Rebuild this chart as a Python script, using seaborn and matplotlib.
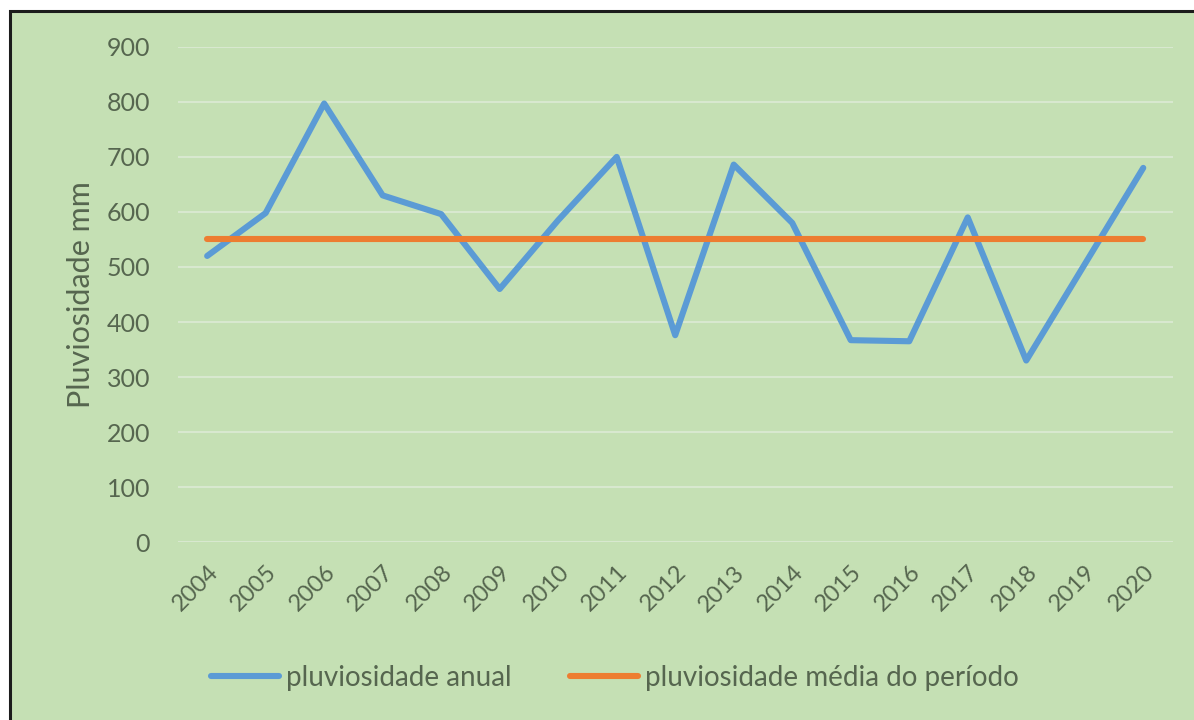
import matplotlib
matplotlib.use("Agg")
import matplotlib.pyplot as plt
import seaborn as sns
import pandas as pd
from matplotlib.patches import Rectangle

anos = ["2004", "2005", "2006", "2007", "2008", "2009", "2010", "2011", "2012",
        "2013", "2014", "2015", "2016", "2017", "2018", "2019", "2020"]
pluviosidade_anual = [520, 598, 797, 630, 596, 460, 585, 700, 376,
                      686, 580, 367, 365, 590, 330, 505, 680]
media_periodo = 550

bg = "#c5e0b4"
grid_col = "#d8e8cf"
txt = "#56664f"
azul = "#5b9bd5"
laranja = "#ed7d31"

df = pd.DataFrame({
    "ano": anos,
    "anual": pluviosidade_anual,
    "media": [media_periodo] * len(anos),
})

sns.set_theme(style="white")
plt.rcParams["font.family"] = ["Lato", "DejaVu Sans"]

fig = plt.figure(figsize=(11.94, 7.2), dpi=100, facecolor="white")
# green frame with black edge at left/top like the original screenshot
fig.patches.append(Rectangle((10 / 1194, -0.05), 1.2, 1 - 11 / 720 + 0.05,
                             transform=fig.transFigure, facecolor=bg,
                             edgecolor="#1c1c1c", linewidth=2.2, zorder=-10))

ax = fig.add_axes([0.149, 0.247, 0.833, 0.688])
ax.set_facecolor(bg)
ax.patch.set_alpha(0)

sns.lineplot(data=df, x="ano", y="anual", ax=ax, color=azul, linewidth=4.4,
             label="pluviosidade anual", sort=False)
sns.lineplot(data=df, x="ano", y="media", ax=ax, color=laranja, linewidth=4.4,
             label="pluviosidade média do período", sort=False)

ax.set_ylim(0, 900)
ax.set_xlim(-0.5, len(anos) - 0.5)
ax.set_yticks(range(0, 901, 100))
ax.yaxis.grid(True, color=grid_col, linewidth=1.5)
ax.set_axisbelow(True)
for s in ax.spines.values():
    s.set_visible(False)

ax.tick_params(axis="y", labelsize=18, colors=txt, length=0, pad=20)
ax.tick_params(axis="x", labelsize=17, colors=txt, length=0, pad=14)
plt.setp(ax.get_xticklabels(), rotation=45, ha="right", rotation_mode="anchor")

ax.set_xlabel("")
ax.set_ylabel("Pluviosidade mm", fontsize=22, color=txt, labelpad=8)

leg = ax.legend(loc="center", bbox_to_anchor=(0.515, 1 - 678 / 720),
                bbox_transform=fig.transFigure, ncol=2, frameon=False,
                fontsize=20, handlelength=2.45, handletextpad=0.25,
                columnspacing=2.1)
for t in leg.get_texts():
    t.set_color(txt)

fig.savefig("out.png", dpi=100, facecolor=fig.get_facecolor())
